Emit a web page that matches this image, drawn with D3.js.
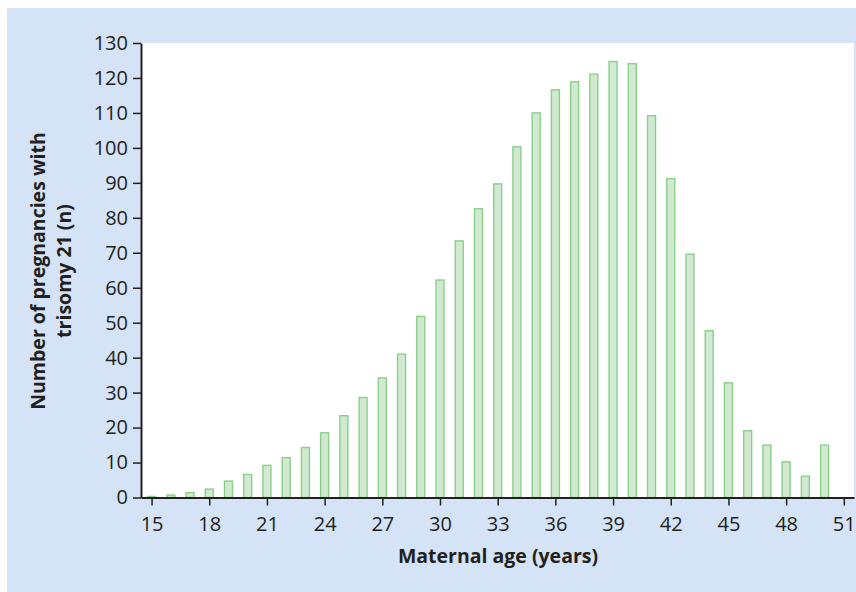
<!DOCTYPE html>
<html>
<head>
<meta charset="utf-8">
<script src="https://cdn.jsdelivr.net/npm/d3@7"></script>
<style>
  body { margin: 0; background: #fff; }
  svg { display: block; font-family: "Open Sans", sans-serif; }
</style>
</head>
<body>
<svg id="chart" width="856" height="592"></svg>
<script>
// maternal age (years), one bar per year
const ages = d3.range(15, 51);
// number of pregnancies with trisomy 21
const counts = [
  0.3, 0.7, 1.4, 2.4, 4.7, 6.6, 9.2, 11.4, 14.3, 18.5,
  23.4, 28.6, 34.2, 41.0, 51.8, 62.2, 73.4, 82.6, 89.7, 100.3,
  110.0, 116.6, 118.9, 121.1, 124.7, 124.1, 109.2, 91.2, 69.6, 47.7,
  32.8, 19.1, 15.0, 10.2, 6.1, 15.0
];
const xTicks = [15, 18, 21, 24, 27, 30, 33, 36, 39, 42, 45, 48, 51];
const yTicks = d3.range(0, 131, 10);

const svg = d3.select('#chart');
const plot = {left: 141, right: 854, top: 43, bottom: 497.5};

// blue panel behind everything
svg.append('rect')
  .attr('x', 7).attr('y', 8)
  .attr('width', 849).attr('height', 584)
  .attr('fill', '#d4e3f5');

svg.append('rect')
  .attr('x', plot.left).attr('y', plot.top)
  .attr('width', plot.right - plot.left).attr('height', plot.bottom - plot.top)
  .attr('fill', '#fff');

const x = d3.scaleLinear().domain([14.45, 51.53]).range([plot.left, plot.right]);
const y = d3.scaleLinear().domain([0, 130]).range([plot.bottom, plot.top]);

const barW = 8;
svg.append('g')
  .selectAll('rect')
  .data(ages.map((a, i) => [a, counts[i]]))
  .join('rect')
  .attr('x', d => x(d[0]) - barW / 2)
  .attr('y', d => y(d[1]))
  .attr('width', barW)
  .attr('height', d => y(0) - y(d[1]))
  .attr('fill', '#d1e9d1')
  .attr('stroke', '#8bcf8b')
  .attr('stroke-width', 1.4);

const xAxis = svg.append('g')
  .attr('transform', `translate(0,${plot.bottom})`)
  .call(d3.axisBottom(x).tickValues(xTicks).tickSize(8).tickSizeOuter(0).tickPadding(11));

const yAxis = svg.append('g')
  .attr('transform', `translate(${plot.left},0)`)
  .call(d3.axisLeft(y).tickValues(yTicks).tickSize(8).tickSizeOuter(0).tickPadding(5));

[xAxis, yAxis].forEach(g => {
  g.select('.domain').attr('stroke', '#231f20').attr('stroke-width', 2);
  g.selectAll('.tick line').attr('stroke', '#231f20').attr('stroke-width', 1.5);
  g.selectAll('.tick text')
    .attr('fill', '#231f20')
    .style('font-size', '20px')
    .style('font-family', '"Open Sans", sans-serif');
});

svg.append('text')
  .attr('x', 498).attr('y', 563)
  .attr('text-anchor', 'middle')
  .attr('fill', '#231f20')
  .style('font-size', '19.5px')
  .style('font-weight', 'bold')
  .text('Maternal age (years)');

const yTitle = svg.append('text')
  .attr('transform', 'translate(45,271) rotate(-90)')
  .attr('text-anchor', 'middle')
  .attr('fill', '#231f20')
  .style('font-size', '19.5px')
  .style('font-weight', 'bold');
yTitle.append('tspan').attr('x', 0).attr('y', 0).text('Number of pregnancies with');
yTitle.append('tspan').attr('x', 0).attr('y', 25.5).text('trisomy 21 (n)');
</script>
</body>
</html>
